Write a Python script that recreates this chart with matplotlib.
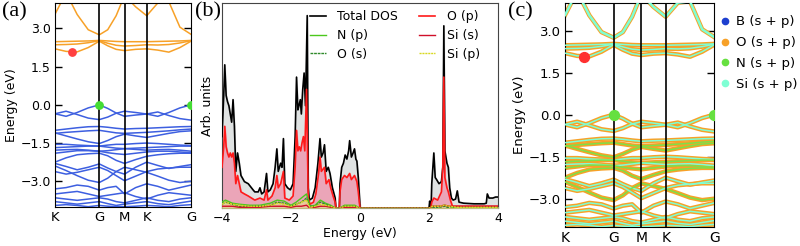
import matplotlib
matplotlib.use("Agg")
import matplotlib.pyplot as plt
from matplotlib.lines import Line2D

# ---- band structure data (eV) read at these k positions ----
k_path = [0, 0.25, 0.5, 0.75, 1.0, 1.19, 1.38, 1.57, 1.82, 2.07, 2.32, 2.57, 2.82, 3.07]
k_ticks = [0, 1.0, 1.57, 2.07, 3.07]
k_labels = ["K", "G", "M", "K", "G"]

conduction_bands = [
    [3.56, 4.40, 3.55, 2.95, 2.75, 2.95, 3.50, 4.30, 3.85, 3.50, 4.00, 4.05, 3.05, 2.77],
    [2.48, 2.49, 2.50, 2.51, 2.53, 2.51, 2.49, 2.48, 2.48, 2.48, 2.49, 2.50, 2.51, 2.53],
    [2.36, 2.37, 2.39, 2.44, 2.52, 2.42, 2.34, 2.31, 2.33, 2.36, 2.35, 2.37, 2.43, 2.52],
    [2.20, 2.10, 2.08, 2.25, 2.50, 2.32, 2.18, 2.13, 2.18, 2.20, 2.15, 2.07, 2.25, 2.50],
]

valence_bands = [
    [-0.35, -0.45, -0.30, -0.12, 0.00, -0.14, -0.32, -0.45, -0.40, -0.36, -0.45, -0.30, -0.12, 0.00],
    [-0.35, -0.25, -0.38, -0.52, -0.58, -0.48, -0.33, -0.25, -0.30, -0.36, -0.28, -0.42, -0.54, -0.60],
    [-1.00, -0.95, -0.90, -0.86, -0.85, -0.88, -0.92, -0.95, -0.93, -0.92, -0.90, -0.88, -0.86, -0.85],
    [-1.12, -1.08, -1.05, -1.02, -1.00, -1.05, -1.10, -1.12, -1.10, -1.08, -1.05, -1.02, -0.98, -0.95],
    [-1.10, -1.22, -1.34, -1.45, -1.52, -1.40, -1.25, -1.15, -1.22, -1.28, -1.20, -1.12, -1.05, -1.02],
    [-1.55, -1.55, -1.58, -1.60, -1.62, -1.58, -1.55, -1.55, -1.52, -1.50, -1.52, -1.55, -1.58, -1.60],
    [-1.68, -1.66, -1.64, -1.62, -1.62, -1.66, -1.70, -1.72, -1.70, -1.68, -1.66, -1.64, -1.62, -1.62],
    [-1.78, -1.76, -1.75, -1.78, -1.82, -1.80, -1.76, -1.72, -1.75, -1.78, -1.76, -1.75, -1.78, -1.82],
    [-1.90, -1.85, -1.80, -1.80, -1.82, -1.88, -1.92, -1.95, -1.90, -1.85, -1.82, -1.82, -1.85, -1.88],
    [-2.25, -2.08, -1.96, -1.92, -1.90, -2.00, -2.18, -2.30, -2.15, -2.02, -1.96, -1.92, -1.90, -1.90],
    [-2.30, -2.42, -2.55, -2.45, -2.32, -2.48, -2.62, -2.72, -2.45, -2.25, -2.38, -2.50, -2.42, -2.35],
    [-2.40, -2.58, -2.78, -2.96, -3.05, -2.88, -2.62, -2.45, -2.55, -2.65, -2.80, -2.96, -3.05, -3.00],
    [-2.62, -2.72, -2.65, -2.55, -2.45, -2.58, -2.78, -2.98, -2.80, -2.62, -2.52, -2.48, -2.45, -2.45],
    [-3.30, -3.25, -3.15, -3.20, -3.35, -3.25, -3.20, -3.50, -3.25, -3.10, -3.20, -3.35, -3.25, -3.15],
    [-3.50, -3.45, -3.40, -3.50, -3.60, -3.55, -3.50, -3.45, -3.60, -3.70, -3.55, -3.45, -3.50, -3.55],
    [-3.65, -3.70, -3.75, -3.70, -3.65, -3.70, -3.80, -3.85, -3.75, -3.65, -3.75, -3.80, -3.70, -3.65],
    [-3.80, -3.85, -3.90, -3.85, -3.80, -3.88, -3.95, -3.90, -3.85, -3.80, -3.88, -3.92, -3.85, -3.78],
    [-3.95, -3.92, -3.95, -4.00, -3.95, -3.98, -4.00, -4.00, -3.98, -3.95, -3.97, -4.00, -3.95, -3.92],
]

cbm_point = (0.39, 2.07)
vbm_points = ([1.0, 3.07], [0.0, 0.0])

# ---- DOS data ----
tot_E = [-4.00, -3.95, -3.92, -3.88, -3.84, -3.80, -3.76, -3.72, -3.68, -3.64, -3.60, -3.55, -3.50,
         -3.45, -3.35, -3.24, -3.10, -3.05, -2.95, -2.90, -2.85, -2.78, -2.71, -2.67, -2.60, -2.52,
         -2.46, -2.41, -2.37, -2.30, -2.26, -2.22, -2.18, -2.10, -2.02, -1.94, -1.88, -1.84, -1.80,
         -1.77, -1.73, -1.70, -1.66, -1.62, -1.58, -1.53, -1.50, -1.47, -1.38, -1.30, -1.22, -1.16,
         -1.12, -1.07, -1.03, -0.98, -0.92, -0.87, -0.80, -0.72, -0.70, -0.60, -0.58, -0.53, -0.48,
         -0.43, -0.38, -0.33, -0.30, -0.25, -0.20, -0.16, -0.12, -0.09, -0.05, -0.01, 0.00, 2.00,
         2.02, 2.04, 2.06, 2.08, 2.14, 2.18, 2.22, 2.29, 2.36, 2.40, 2.43, 2.46, 2.52, 2.56, 2.60,
         2.65, 2.70, 2.77, 2.82, 2.87, 3.00, 3.30, 3.60, 3.66, 3.69, 3.74, 3.85, 3.93, 4.00]
tot_v = [0.35, 0.55, 0.70, 0.55, 0.52, 0.50, 0.46, 0.42, 0.53, 0.40, 0.18, 0.27, 0.22,
         0.16, 0.13, 0.12, 0.09, 0.08, 0.08, 0.10, 0.07, 0.08, 0.17, 0.08, 0.09, 0.12,
         0.20, 0.29, 0.18, 0.22, 0.20, 0.34, 0.12, 0.10, 0.09, 0.12, 0.35, 0.64, 0.48,
         0.50, 0.53, 0.46, 0.58, 0.66, 0.50, 0.94, 0.10, 0.04, 0.05, 0.10, 0.22, 0.34,
         0.25, 0.27, 0.31, 0.18, 0.20, 0.17, 0.10, 0.05, 0.00, 0.00, 0.12, 0.20, 0.22,
         0.26, 0.24, 0.28, 0.33, 0.25, 0.27, 0.29, 0.24, 0.23, 0.15, 0.04, 0.00, 0.00,
         0.035, 0.00, 0.00, 0.12, 0.27, 0.15, 0.14, 0.12, 0.13, 0.20, 0.89, 0.28, 0.22, 0.20, 0.10,
         0.05, 0.04, 0.045, 0.085, 0.03, 0.025, 0.022, 0.022, 0.025, 0.07, 0.05, 0.05, 0.055, 0.055]

op_E = [-4.00, -3.95, -3.92, -3.88, -3.84, -3.80, -3.76, -3.72, -3.68, -3.64, -3.60, -3.55, -3.50,
        -3.45, -3.35, -3.24, -3.05, -2.90, -2.78, -2.71, -2.67, -2.55, -2.46, -2.41, -2.37, -2.30,
        -2.22, -2.18, -2.05, -1.94, -1.88, -1.84, -1.80, -1.76, -1.72, -1.68, -1.64, -1.60, -1.55,
        -1.50, -1.45, -1.35, -1.28, -1.20, -1.16, -1.12, -1.03, -0.98, -0.90, -0.85, -0.78, -0.72,
        -0.70, -0.60, -0.58, -0.53, -0.45, -0.38, -0.30, -0.25, -0.16, -0.09, -0.05, 0.00, 2.05,
        2.08, 2.14, 2.25, 2.36, 2.40, 2.43, 2.46, 2.52, 2.56, 2.62, 2.68, 3.00, 4.00]
op_v = [0.20, 0.30, 0.40, 0.30, 0.27, 0.25, 0.27, 0.25, 0.27, 0.22, 0.12, 0.16, 0.12,
        0.08, 0.07, 0.06, 0.04, 0.05, 0.04, 0.09, 0.04, 0.06, 0.10, 0.16, 0.10, 0.12,
        0.18, 0.05, 0.04, 0.06, 0.20, 0.38, 0.28, 0.30, 0.28, 0.32, 0.35, 0.28, 0.58,
        0.05, 0.02, 0.03, 0.07, 0.17, 0.25, 0.18, 0.20, 0.12, 0.14, 0.10, 0.06, 0.03,
        0.00, 0.00, 0.08, 0.14, 0.16, 0.15, 0.17, 0.14, 0.16, 0.13, 0.08, 0.00, 0.00,
        0.03, 0.05, 0.04, 0.08, 0.20, 0.64, 0.15, 0.10, 0.08, 0.04, 0.01, 0.01, 0.01]

small_E = [-4.0, -3.9, -3.7, -3.5, -3.2, -2.9, -2.6, -2.4, -2.2, -2.0, -1.85, -1.7, -1.55, -1.45,
           -1.3, -1.15, -1.0, -0.85, -0.7, -0.6, -0.45, -0.3, -0.15, 0.0, 2.0, 2.1, 2.3, 2.45,
           2.6, 2.8, 3.2, 3.7, 4.0]
np_v = [0.03, 0.04, 0.025, 0.02, 0.015, 0.015, 0.025, 0.04, 0.035, 0.015, 0.03, 0.05, 0.07, 0.01,
        0.015, 0.04, 0.025, 0.015, 0.0, 0.0, 0.015, 0.015, 0.015, 0.0, 0.0, 0.01, 0.01, 0.015,
        0.01, 0.0, 0.0, 0.0, 0.0]
os_v = [0.02, 0.03, 0.02, 0.01, 0.01, 0.01, 0.015, 0.03, 0.025, 0.01, 0.02, 0.03, 0.05, 0.01,
        0.01, 0.03, 0.02, 0.01, 0.0, 0.0, 0.01, 0.01, 0.01, 0.0, 0.0, 0.005, 0.005, 0.01,
        0.0, 0.0, 0.0, 0.0, 0.0]
sis_v = [0.01, 0.01, 0.01, 0.005, 0.005, 0.005, 0.01, 0.01, 0.01, 0.005, 0.01, 0.01, 0.015, 0.0,
         0.005, 0.01, 0.01, 0.005, 0.0, 0.0, 0.005, 0.005, 0.005, 0.0, 0.0, 0.01, 0.01, 0.015,
         0.01, 0.01, 0.01, 0.01, 0.01]
sip_v = [0.02, 0.03, 0.02, 0.015, 0.01, 0.01, 0.015, 0.025, 0.02, 0.01, 0.02, 0.03, 0.04, 0.005,
         0.01, 0.02, 0.015, 0.01, 0.0, 0.0, 0.01, 0.01, 0.01, 0.0, 0.0, 0.01, 0.01, 0.015,
         0.01, 0.005, 0.005, 0.005, 0.005]

# per-band core colour in panel (c) (Si cyan or N green)
CYAN = "#7fffd4"
GREEN = "#7ee048"
core_cond = [CYAN, CYAN, CYAN, CYAN]
core_val = [CYAN, CYAN, CYAN, GREEN, GREEN, CYAN, GREEN, CYAN, GREEN, GREEN,
            CYAN, GREEN, CYAN, CYAN, CYAN, CYAN, CYAN, CYAN]

ORANGE = "#f7a128"
BLUE = "#3d5fe0"
FS = 9

fig = plt.figure(figsize=(8.0, 2.46), dpi=100)
ax1 = fig.add_axes([55/800, 1-206.7/246, 136/800, 203.7/246])
ax2 = fig.add_axes([222/800, 1-208.3/246, 276/800, 205/246])
ax3 = fig.add_axes([565/800, 1-226.7/246, 149.3/800, 224/246])


def band_frame(ax, fs):
    for kx in k_ticks[1:-1]:
        ax.axvline(kx, color="k", lw=1.2, zorder=5)
    ax.set_xlim(k_ticks[0], k_ticks[-1])
    ax.set_ylim(-4.0, 4.0)
    ax.set_xticks(k_ticks)
    ax.set_xticklabels(k_labels, fontsize=fs + 0.5)
    ax.set_yticks([3.0, 1.5, 0.0, -1.5, -3.0])
    ax.set_yticklabels(["3.0", "1.5", "0.0", "\u22121.5", "\u22123.0"], fontsize=fs)
    ax.tick_params(axis="x", length=0, pad=3)
    ax.tick_params(axis="y", direction="in", length=5, left=True, right=True, width=1, pad=3)
    ax.set_ylabel("Energy (eV)", fontsize=fs, labelpad=2)


# (a)
for b in conduction_bands:
    ax1.plot(k_path, b, color=ORANGE, lw=1.1, solid_joinstyle="round")
for b in valence_bands:
    ax1.plot(k_path, b, color=BLUE, lw=1.1, solid_joinstyle="round")
ax1.scatter([cbm_point[0]], [cbm_point[1]], s=28, color="#ff4040", zorder=6)
ax1.scatter(vbm_points[0], vbm_points[1], s=28, color="#44dd33", zorder=6)
band_frame(ax1, FS)

# (b)
ax2.fill_between(tot_E, tot_v, color="#dfe2e2", zorder=1)
ax2.fill_between(op_E, op_v, color="#eba5b8", zorder=2)
ax2.fill_between(small_E, sip_v, color="#e6e08a", zorder=3, alpha=0.6)
ax2.plot(tot_E, tot_v, color="black", lw=1.2, label="Total DOS", zorder=4)
ax2.plot(small_E, np_v, color="#4cc81c", lw=1.0, label="N (p)", zorder=5)
ax2.plot(small_E, os_v, color="#2f8a2a", lw=1.0, ls=(0, (2, 0.6)), label="O (s)", zorder=5)
ax2.plot(op_E, op_v, color="#ff1a1a", lw=1.2, label="O (p)", zorder=4)
ax2.plot(small_E, sis_v, color="#d0102a", lw=1.0, label="Si (s)", zorder=5)
ax2.plot(small_E, sip_v, color="#d8d820", lw=1.0, ls=(0, (1.5, 0.6)), label="Si (p)", zorder=5)
ax2.set_xlim(-4, 4)
ax2.set_ylim(0, 1)
ax2.set_xticks([-4, -2, 0, 2, 4])
ax2.tick_params(axis="x", labelsize=FS, length=3, direction="in", pad=3)
ax2.set_yticks([])
ax2.set_xlabel("Energy (eV)", fontsize=FS, labelpad=1)
ax2.set_ylabel("Arb. units", fontsize=FS, labelpad=6)
for s in ax2.spines.values():
    s.set_color("#444444")
ax2.legend(ncol=2, loc="upper right", bbox_to_anchor=(0.975, 1.02), frameon=False,
           fontsize=FS, handlelength=1.3, columnspacing=1.7, labelspacing=0.45,
           handletextpad=0.9)

# (c)
for i, (b, c) in enumerate(zip(conduction_bands, core_cond)):
    ax3.plot(k_path, b, color=ORANGE, lw=3.2, solid_joinstyle="round", zorder=2)
    ax3.plot(k_path, b, color=c, lw=1.8 if i == 0 else 1.1, solid_joinstyle="round", zorder=3)
for b, c in zip(valence_bands, core_val):
    ax3.plot(k_path, b, color=ORANGE, lw=3.2, solid_joinstyle="round", zorder=2)
    ax3.plot(k_path, b, color=c, lw=1.1, solid_joinstyle="round", zorder=3)
ax3.scatter([cbm_point[0]], [cbm_point[1]], s=50, color="#ff3030", zorder=6)
ax3.scatter(vbm_points[0], vbm_points[1], s=50, color="#66e040", zorder=6)
band_frame(ax3, FS + 0.5)

legend_items = [("B (s + p)", "#1d3fcf"), ("O (s + p)", ORANGE),
                ("N (s + p)", "#66e040"), ("Si (s + p)", CYAN)]
handles = [Line2D([], [], ls="none", marker="o", ms=4.5, color=c, label=t) for t, c in legend_items]
fig.legend(handles=handles, loc="upper left", bbox_to_anchor=(716/800, 1-10/246),
           frameon=False, fontsize=FS + 0.5, handlelength=0.6, handletextpad=0.5,
           labelspacing=0.6, borderaxespad=0.0)

# panel letters
for x, t in [(2, "(a)"), (195, "(b)"), (508, "(c)")]:
    fig.text(x/800, 1-2/246, t, fontsize=16, family="Liberation Serif", va="top", ha="left")

fig.savefig("out.png", dpi=100)
